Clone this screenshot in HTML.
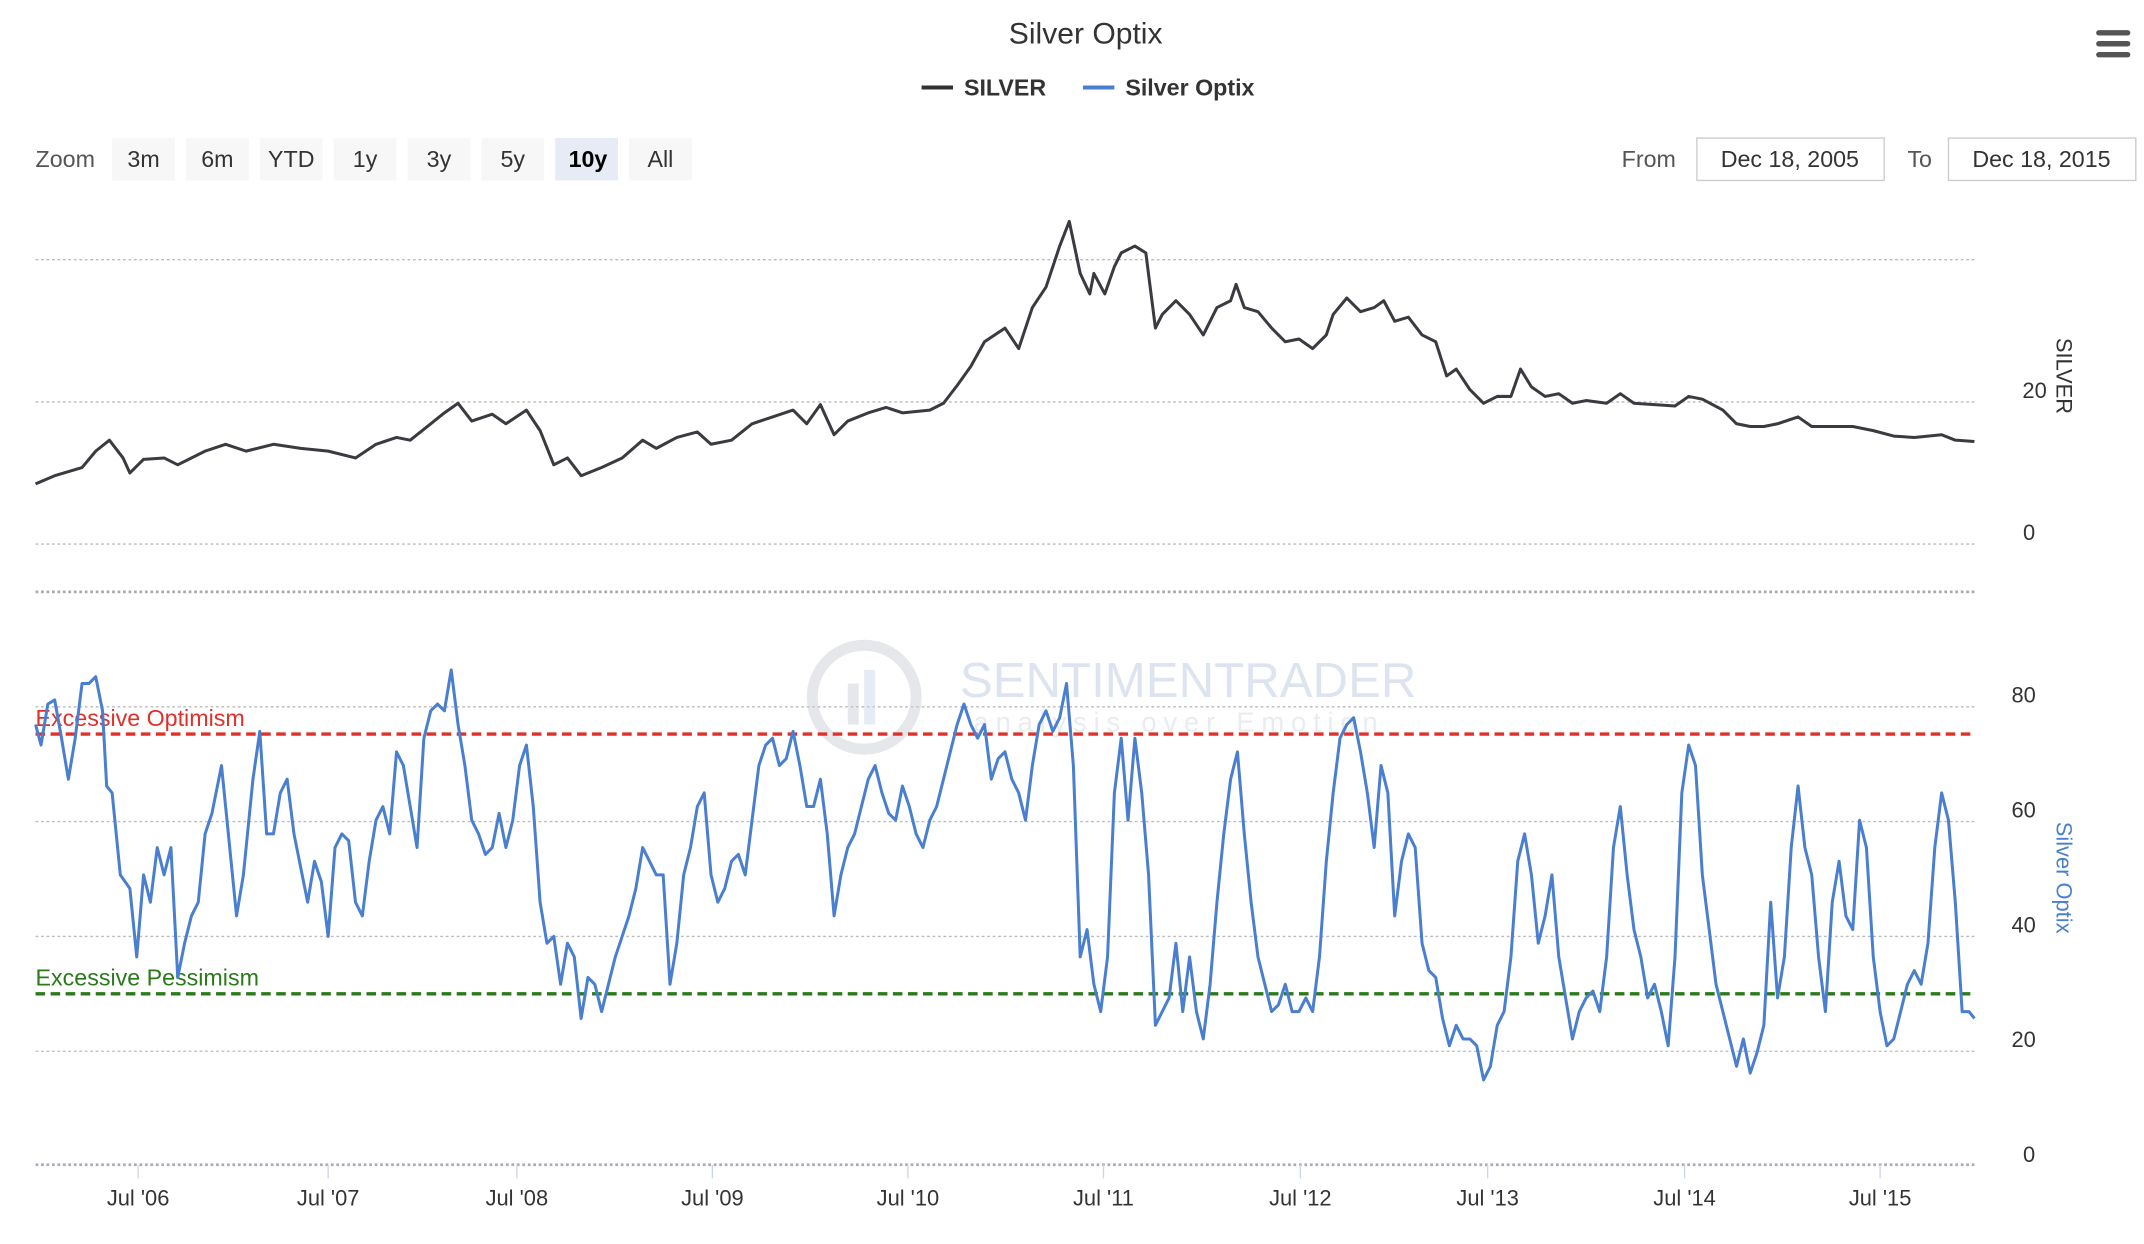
<!DOCTYPE html>
<html><head><meta charset="utf-8"><style>
html,body{margin:0;padding:0;background:#fff;}
svg{display:block;}
text{font-family:"Liberation Sans",sans-serif;}
</style></head><body>
<svg width="2144" height="1244" viewBox="0 0 1568 910" preserveAspectRatio="none" xmlns="http://www.w3.org/2000/svg">
<rect width="1568" height="910" fill="#fff"/>
<text x="794" y="32" font-size="22" fill="#333" text-anchor="middle">Silver Optix</text>
<g font-size="17" font-weight="bold" fill="#333">
<line x1="674" y1="64" x2="697" y2="64" stroke="#333" stroke-width="3"/><text x="705" y="70">SILVER</text>
<line x1="792" y1="64" x2="815" y2="64" stroke="#4a7fd0" stroke-width="3"/><text x="823" y="70">Silver Optix</text>
</g>
<g fill="#555"><rect x="1533" y="22" width="25" height="4" rx="2"/><rect x="1533" y="30" width="25" height="4" rx="2"/><rect x="1533" y="38" width="25" height="4" rx="2"/></g>
<g font-size="17" fill="#555">
<text x="26" y="122">Zoom</text>
<rect x="82" y="101" width="46" height="31" fill="#f7f7f7"/><text x="105" y="122" text-anchor="middle" fill="#333">3m</text>
<rect x="136" y="101" width="46" height="31" fill="#f7f7f7"/><text x="159" y="122" text-anchor="middle" fill="#333">6m</text>
<rect x="190" y="101" width="46" height="31" fill="#f7f7f7"/><text x="213" y="122" text-anchor="middle" fill="#333">YTD</text>
<rect x="244" y="101" width="46" height="31" fill="#f7f7f7"/><text x="267" y="122" text-anchor="middle" fill="#333">1y</text>
<rect x="298" y="101" width="46" height="31" fill="#f7f7f7"/><text x="321" y="122" text-anchor="middle" fill="#333">3y</text>
<rect x="352" y="101" width="46" height="31" fill="#f7f7f7"/><text x="375" y="122" text-anchor="middle" fill="#333">5y</text>
<rect x="406" y="101" width="46" height="31" fill="#e6ebf5"/><text x="430" y="122" text-anchor="middle" fill="#000" font-weight="bold">10y</text>
<rect x="460" y="101" width="46" height="31" fill="#f7f7f7"/><text x="483" y="122" text-anchor="middle" fill="#333">All</text>
<text x="1186" y="122">From</text>
<rect x="1241" y="101" width="137" height="31" fill="#fff" stroke="#ccc"/><text x="1309" y="122" text-anchor="middle" fill="#333">Dec 18, 2005</text>
<text x="1395" y="122">To</text>
<rect x="1425" y="101" width="137" height="31" fill="#fff" stroke="#ccc"/><text x="1493" y="122" text-anchor="middle" fill="#333">Dec 18, 2015</text>
</g>
<g stroke="#bbb" stroke-dasharray="2,2" stroke-width="1">
<line x1="26" y1="190" x2="1444" y2="190"/><line x1="26" y1="294" x2="1444" y2="294"/><line x1="26" y1="398" x2="1444" y2="398"/>
<line x1="26" y1="517" x2="1444" y2="517"/><line x1="26" y1="601" x2="1444" y2="601"/><line x1="26" y1="685" x2="1444" y2="685"/><line x1="26" y1="769" x2="1444" y2="769"/>
</g>
<line x1="26" y1="433" x2="1444" y2="433" stroke="#aaa" stroke-dasharray="2,2" stroke-width="2"/>
<line x1="26" y1="852" x2="1444" y2="852" stroke="#aab" stroke-dasharray="2,2" stroke-width="2"/>
<g fill="#333" font-size="16">
<text x="1488" y="291" text-anchor="middle">20</text><text x="1484" y="395" text-anchor="middle">0</text>
<text x="1480" y="514" text-anchor="middle">80</text><text x="1480" y="598" text-anchor="middle">60</text><text x="1480" y="682" text-anchor="middle">40</text><text x="1480" y="766" text-anchor="middle">20</text><text x="1484" y="850" text-anchor="middle">0</text>
</g>
<text transform="translate(1504,275) rotate(90)" font-size="16" fill="#333" text-anchor="middle">SILVER</text>
<text transform="translate(1504,642) rotate(90)" font-size="16" fill="#4a7fd0" text-anchor="middle">Silver Optix</text>
<g opacity="0.45">
<circle cx="632" cy="510" r="38" fill="none" stroke="#c8ccd4" stroke-width="8"/>
<rect x="620" y="500" width="8" height="30" fill="#c8ccd4"/><rect x="632" y="490" width="8" height="40" fill="#c8d6ea"/>
<text x="702" y="510" font-size="36" fill="#b8c4dc">SENTIMENTRADER</text>
<text x="712" y="535" font-size="20" fill="#d0d5de" letter-spacing="5">analysis over Emotion</text>
</g>
<line x1="26" y1="537" x2="1444" y2="537" stroke="#e0302a" stroke-width="2.5" stroke-dasharray="7,4"/>
<line x1="26" y1="727" x2="1444" y2="727" stroke="#2a7a1a" stroke-width="2.5" stroke-dasharray="7,4"/>
<text x="26" y="531" font-size="17" fill="#e0302a">Excessive Optimism</text>
<text x="26" y="721" font-size="17" fill="#2a7a1a">Excessive Pessimism</text>
<polyline fill="none" stroke="#3a3a40" stroke-width="2.2" stroke-linejoin="round" points="26,354 40,348 60,342 70,330 80,322 90,335 95,346 105,336 120,335 130,340 150,330 165,325 180,330 200,325 220,328 240,330 260,335 275,325 290,320 300,322 315,310 325,302 335,295 345,308 360,303 370,310 385,300 395,315 405,340 415,335 425,348 440,342 455,335 470,322 480,328 495,320 510,316 520,325 535,322 550,310 565,305 580,300 590,310 600,296 610,318 620,308 635,302 648,298 660,302 680,300 690,295 700,282 710,268 720,250 735,240 745,255 755,225 765,210 775,180 782,162 790,200 797,215 800,200 808,215 815,195 820,185 830,180 838,185 845,240 850,230 860,220 870,230 880,245 890,225 900,220 904,208 910,225 920,228 930,240 940,250 950,248 960,255 970,245 975,230 985,218 995,228 1005,225 1012,220 1020,235 1030,232 1040,245 1050,250 1058,275 1065,270 1075,285 1085,295 1095,290 1105,290 1112,270 1120,283 1130,290 1140,288 1150,295 1160,293 1175,295 1185,288 1195,295 1210,296 1225,297 1235,290 1245,292 1260,300 1270,310 1280,312 1290,312 1300,310 1315,305 1325,312 1340,312 1355,312 1370,315 1385,319 1400,320 1420,318 1430,322 1444,323"/>
<polyline fill="none" stroke="#4a7fd0" stroke-width="2.2" stroke-linejoin="round" points="26,530 30,545 35,515 40,512 45,540 50,570 55,540 60,500 65,500 70,495 75,520 78,575 82,580 88,640 95,650 100,700 105,640 110,660 115,620 120,640 125,620 130,715 135,690 140,670 145,660 150,610 155,595 162,560 168,620 173,670 178,640 185,570 190,535 195,610 200,610 205,580 210,570 215,610 220,635 225,660 230,630 235,645 240,685 245,620 250,610 255,615 260,660 265,670 270,630 275,600 280,590 285,610 290,550 295,560 300,590 305,620 310,540 315,520 320,515 325,520 330,490 335,530 340,560 345,600 350,610 355,625 360,620 365,595 370,620 375,600 380,560 385,545 390,590 395,660 400,690 405,685 410,720 415,690 420,700 425,745 430,715 435,720 440,740 445,720 450,700 455,685 460,670 465,650 470,620 475,630 480,640 485,640 490,720 495,690 500,640 505,620 510,590 515,580 520,640 525,660 530,650 535,630 540,625 545,640 550,600 555,560 560,545 565,540 570,560 575,555 580,535 585,560 590,590 595,590 600,570 605,610 610,670 615,640 620,620 625,610 630,590 635,570 640,560 645,580 650,595 655,600 660,575 665,590 670,610 675,620 680,600 685,590 690,570 695,550 700,530 705,515 710,530 715,540 720,530 725,570 730,555 735,550 740,570 745,580 750,600 755,560 760,530 765,520 770,535 775,525 780,500 785,560 790,700 795,680 800,720 805,740 810,700 815,580 820,540 825,600 830,540 835,580 840,640 845,750 850,740 855,730 860,690 865,740 870,700 875,740 880,760 885,720 890,660 895,610 900,570 905,550 910,610 915,660 920,700 925,720 930,740 935,735 940,720 945,740 950,740 955,730 960,740 965,700 970,630 975,580 980,540 985,530 990,525 995,550 1000,580 1005,620 1010,560 1015,580 1020,670 1025,630 1030,610 1035,620 1040,690 1045,710 1050,715 1055,745 1060,765 1065,750 1070,760 1075,760 1080,765 1085,790 1090,780 1095,750 1100,740 1105,700 1110,630 1115,610 1120,640 1125,690 1130,670 1135,640 1140,700 1145,730 1150,760 1155,740 1160,730 1165,725 1170,740 1175,700 1180,620 1185,590 1190,640 1195,680 1200,700 1205,730 1210,720 1215,740 1220,765 1225,700 1230,580 1235,545 1240,560 1245,640 1250,680 1255,720 1260,740 1265,760 1270,780 1275,760 1280,785 1285,770 1290,750 1295,660 1300,730 1305,700 1310,620 1315,575 1320,620 1325,640 1330,700 1335,740 1340,660 1345,630 1350,670 1355,680 1360,600 1365,620 1370,700 1375,740 1380,765 1385,760 1390,740 1395,720 1400,710 1405,720 1410,690 1415,620 1420,580 1425,600 1430,660 1435,740 1440,740 1444,745"/>
<g stroke="#ccd6eb" stroke-width="1">
<line x1="101" y1="852" x2="101" y2="862"/><line x1="240" y1="852" x2="240" y2="862"/><line x1="378" y1="852" x2="378" y2="862"/><line x1="521" y1="852" x2="521" y2="862"/><line x1="664" y1="852" x2="664" y2="862"/><line x1="807" y1="852" x2="807" y2="862"/><line x1="951" y1="852" x2="951" y2="862"/><line x1="1088" y1="852" x2="1088" y2="862"/><line x1="1232" y1="852" x2="1232" y2="862"/><line x1="1375" y1="852" x2="1375" y2="862"/>
</g>
<g fill="#333" font-size="16" text-anchor="middle">
<text x="101" y="882">Jul '06</text><text x="240" y="882">Jul '07</text><text x="378" y="882">Jul '08</text><text x="521" y="882">Jul '09</text><text x="664" y="882">Jul '10</text><text x="807" y="882">Jul '11</text><text x="951" y="882">Jul '12</text><text x="1088" y="882">Jul '13</text><text x="1232" y="882">Jul '14</text><text x="1375" y="882">Jul '15</text>
</g>
</svg>
</body></html>
